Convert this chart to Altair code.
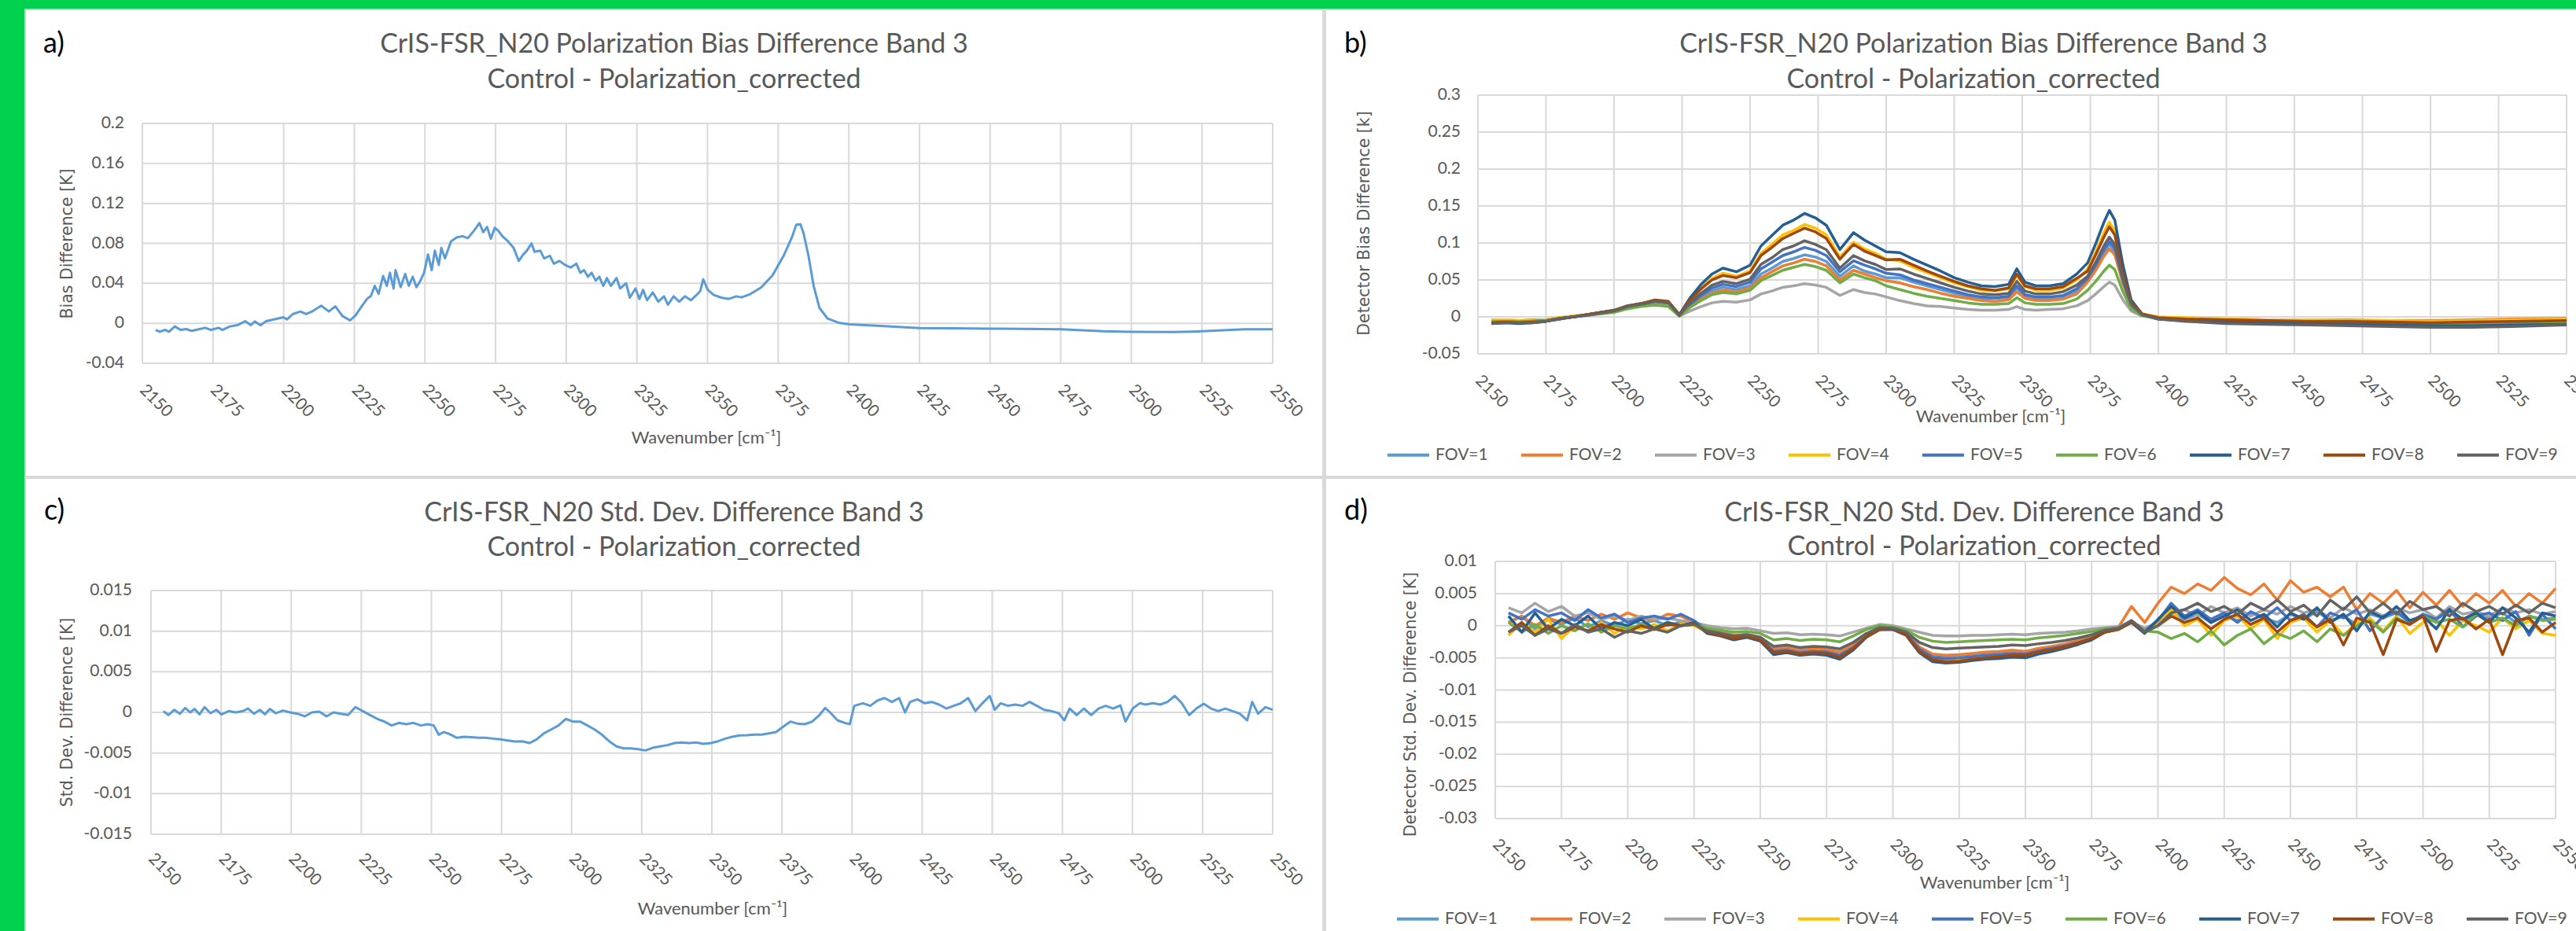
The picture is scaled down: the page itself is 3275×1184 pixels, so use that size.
import altair as alt
import pandas as pd

# ---------------- data ----------------
X_TICKS = [2150, 2175, 2200, 2225, 2250, 2275, 2300, 2325, 2350, 2375, 2400,
           2425, 2450, 2475, 2500, 2525, 2550]
X_TICK_LABELS = [str(v) for v in X_TICKS]

FOV_NAMES = ["FOV=1", "FOV=2", "FOV=3", "FOV=4", "FOV=5", "FOV=6", "FOV=7", "FOV=8", "FOV=9"]
FOV_COLORS = ["#5b9bd5", "#ed7d31", "#a5a5a5", "#ffc000", "#4472c4", "#70ad47",
              "#255e91", "#9e480e", "#636363"]

# panel a: mean bias difference
WN_A = [2154.7, 2156.1, 2158.1, 2159.4, 2161.5, 2163.5, 2165.5, 2167.5, 2170.2, 2172.2,
        2174.3, 2177.0, 2178.3, 2181.0, 2183.7, 2186.4, 2188.4, 2189.8, 2191.8, 2193.8,
        2196.5, 2199.9, 2201.2, 2203.2, 2205.9, 2208.0, 2210.0, 2213.3, 2216.0, 2218.3,
        2220.8, 2223.5, 2225.5, 2227.5, 2229.5, 2230.9, 2232.2, 2233.6, 2235.2, 2236.5,
        2237.6, 2238.9, 2239.6, 2241.4, 2243.0, 2244.3, 2245.7, 2247.0, 2248.4, 2249.7,
        2251.1, 2252.4, 2253.5, 2254.9, 2255.8, 2257.1, 2259.2, 2261.2, 2263.2, 2265.2,
        2267.3, 2269.3, 2270.6, 2272.0, 2273.3, 2274.7, 2276.0, 2277.4, 2279.4, 2281.4,
        2283.2, 2284.8, 2286.1, 2287.7, 2288.8, 2290.8, 2292.2, 2294.2, 2295.6, 2297.6,
        2299.6, 2301.6, 2303.6, 2305.0, 2306.3, 2307.7, 2309.0, 2310.4, 2311.7, 2313.1,
        2314.4, 2315.8, 2317.8, 2319.1, 2321.2, 2322.5, 2324.5, 2325.9, 2327.2, 2328.6,
        2330.6, 2332.6, 2334.6, 2336.0, 2338.0, 2340.0, 2342.0, 2344.1, 2346.1, 2347.4,
        2348.5, 2350.1, 2352.2, 2354.9, 2357.5, 2360.2, 2362.0, 2365.0, 2369.0, 2373.0,
        2377.0, 2380.0, 2381.4, 2382.9, 2384.0, 2385.7, 2387.6, 2389.6, 2392.5, 2396.4,
        2400.3, 2410, 2425, 2437, 2450, 2462, 2475, 2490, 2500, 2515, 2525, 2540, 2550]
VAL_A = [-0.0066, -0.0084, -0.0066, -0.0084, -0.0031, -0.0066, -0.0058, -0.0076, -0.0058, -0.0045,
         -0.0066, -0.0045, -0.0066, -0.0031, -0.0018, 0.0021, -0.0018, 0.0018, -0.0018, 0.0021,
         0.0039, 0.0060, 0.0039, 0.0092, 0.0118, 0.0092, 0.0118, 0.0176, 0.0118, 0.0170,
         0.0073, 0.0029, 0.0081, 0.0165, 0.0244, 0.0275, 0.0375, 0.0296, 0.0474, 0.0375,
         0.0506, 0.0348, 0.0532, 0.0362, 0.0493, 0.0375, 0.0466, 0.0362, 0.0427, 0.0506,
         0.0689, 0.0532, 0.0728, 0.0584, 0.0755, 0.0650, 0.0820, 0.0859, 0.0872, 0.0852,
         0.0925, 0.1003, 0.0912, 0.0964, 0.0846, 0.0956, 0.0925, 0.0872, 0.0820, 0.0755,
         0.0624, 0.0689, 0.0728, 0.0799, 0.0715, 0.0728, 0.0650, 0.0676, 0.0597, 0.0624,
         0.0584, 0.0558, 0.0597, 0.0506, 0.0532, 0.0466, 0.0506, 0.0427, 0.0466, 0.0375,
         0.0453, 0.0375, 0.0453, 0.0348, 0.0401, 0.0257, 0.0348, 0.0244, 0.0335, 0.0231,
         0.0309, 0.0217, 0.0270, 0.0186, 0.0270, 0.0217, 0.0270, 0.0231, 0.0283, 0.0322,
         0.0440, 0.0335, 0.0283, 0.0257, 0.0244, 0.0270, 0.0260, 0.0290, 0.0360, 0.0480,
         0.0680, 0.0870, 0.0986, 0.0990, 0.0900, 0.0680, 0.0370, 0.0155, 0.0047, 0.0006,
         -0.0010, -0.0025, -0.0047, -0.0050, -0.0054, -0.0055, -0.0060, -0.0080, -0.0085,
         -0.0088, -0.0080, -0.0060, -0.0060]

# panel c: mean std. dev. difference
WN_C = [2154.4, 2156.2, 2158.3, 2160.3, 2162.2, 2164.0, 2165.5, 2167.3, 2169.1, 2171.2,
        2173.3, 2175.1, 2177.7, 2180.2, 2182.8, 2184.6, 2186.7, 2188.8, 2190.6, 2192.4,
        2194.5, 2197.1, 2199.6, 2202.2, 2204.8, 2207.4, 2210.0, 2212.6, 2215.1, 2217.7,
        2220.3, 2222.9, 2225.5, 2228.1, 2230.7, 2233.2, 2235.8, 2238.4, 2241.0, 2243.6,
        2246.2, 2248.8, 2250.8, 2252.6, 2254.4, 2256.5, 2259.1, 2261.7, 2264.3, 2266.9,
        2269.4, 2272.0, 2274.6, 2277.2, 2279.8, 2282.4, 2285.0, 2287.5, 2290.1, 2292.7,
        2295.3, 2297.9, 2300.5, 2303.0, 2305.6, 2308.2, 2310.8, 2313.4, 2316.0, 2318.6,
        2321.1, 2323.7, 2326.3, 2328.9, 2331.5, 2334.1, 2336.7, 2339.2, 2341.8, 2344.4,
        2347.0, 2349.6, 2352.2, 2354.8, 2357.3, 2359.9, 2362.5, 2365.1, 2367.7, 2370.3,
        2372.9, 2375.4, 2378.0, 2380.6, 2383.2, 2385.8, 2388.4, 2390.4, 2392.2, 2394.8,
        2397.4, 2399.2, 2400.8, 2403.9, 2406.5, 2409.0, 2411.6, 2414.2, 2416.8, 2418.9,
        2420.7, 2423.3, 2425.9, 2428.4, 2431.0, 2433.6, 2436.2, 2438.8, 2441.4, 2444.0,
        2446.5, 2449.1, 2450.9, 2453.0, 2455.6, 2458.2, 2460.8, 2463.3, 2465.9, 2468.5,
        2471.1, 2473.7, 2475.7, 2477.6, 2480.1, 2482.7, 2485.3, 2487.9, 2490.5, 2493.1,
        2495.7, 2497.5, 2500.1, 2502.6, 2504.7, 2507.3, 2509.9, 2512.5, 2515.1, 2517.6,
        2520.2, 2522.8, 2525.4, 2528.0, 2530.6, 2533.1, 2535.7, 2538.3, 2540.9, 2542.7,
        2544.8, 2547.4, 2550.0]
VAL_C = [0.00016, -0.00032, 0.00032, -0.00016, 0.00055, 0.0, 0.00042, -0.00023, 0.00065, -0.0001,
         0.00032, -0.00026, 0.00016, 0.0, 0.00016, 0.00048, -0.00016, 0.00032, -0.00023, 0.00042,
         -0.0001, 0.00023, 0.0, -0.00016, -0.00048, 0.0, 0.0001, -0.00048, 0.0, -0.00016,
         -0.00032, 0.00065, 0.00016, -0.00032, -0.0008, -0.00113, -0.00161, -0.00129, -0.00145, -0.00129,
         -0.00161, -0.00145, -0.00161, -0.00274, -0.00242, -0.00268, -0.00313, -0.003, -0.00306, -0.00313,
         -0.00313, -0.00323, -0.00332, -0.00345, -0.00358, -0.00355, -0.00377, -0.00332, -0.00258, -0.0021,
         -0.00161, -0.0008, -0.00113, -0.00113, -0.00161, -0.0021, -0.00274, -0.00355, -0.00419, -0.00442,
         -0.00442, -0.00452, -0.00468, -0.00436, -0.00419, -0.00403, -0.00377, -0.00371, -0.00377, -0.00371,
         -0.00387, -0.00377, -0.00355, -0.00323, -0.003, -0.00284, -0.00281, -0.00274, -0.00274, -0.00258,
         -0.00242, -0.00177, -0.00113, -0.00139, -0.00145, -0.00113, -0.00032, 0.00055, 0.0, -0.00097,
         -0.00129, -0.00145, 0.00081, 0.00113, 0.00081, 0.00145, 0.00177, 0.00129, 0.00177, 0.0,
         0.00129, 0.00161, 0.00113, 0.00129, 0.00097, 0.00048, 0.00081, 0.00113, 0.00177, 0.00016,
         0.00113, 0.00203, 0.00032, 0.00113, 0.00081, 0.00097, 0.00081, 0.00129, 0.00081, 0.00032,
         0.00016, -0.0001, -0.00097, 0.00048, -0.00032, 0.00048, -0.00032, 0.00048, 0.00081, 0.00048,
         0.00087, -0.00113, 0.00048, 0.00113, 0.00097, 0.00113, 0.00097, 0.00129, 0.00203, 0.00113,
         -0.00032, 0.00048, 0.00106, 0.00048, 0.00016, 0.00048, 0.00016, -0.00016, -0.00097, 0.00129,
         -0.00016, 0.00065, 0.00032]

# panel b: per-detector bias difference
WN_B = [2155, 2160, 2165, 2170, 2175, 2180, 2185, 2190, 2195, 2200, 2205, 2210, 2215, 2220, 2224,
        2228, 2232, 2236, 2240, 2245, 2250, 2254, 2258, 2262, 2266, 2270, 2274, 2278, 2283, 2288,
        2292, 2296, 2300, 2305, 2310, 2315, 2320, 2325, 2330, 2335, 2340, 2345, 2348, 2351, 2355,
        2360, 2365, 2370, 2374, 2377, 2380, 2382, 2384, 2387, 2390, 2394,
        2400, 2410, 2425, 2440, 2455, 2470, 2485, 2500, 2515, 2530, 2550]
FOV1_B = [-0.007, -0.006, -0.007, -0.006, -0.005, -0.002, 0.000, 0.003, 0.006, 0.008, 0.014, 0.017, 0.020, 0.018, 0.002,
          0.016, 0.026, 0.035, 0.040, 0.037, 0.042, 0.058, 0.066, 0.075, 0.079, 0.084, 0.081, 0.075, 0.055, 0.069,
          0.062, 0.058, 0.053, 0.053, 0.047, 0.042, 0.037, 0.032, 0.028, 0.025, 0.025, 0.026, 0.039, 0.028, 0.025,
          0.025, 0.027, 0.035, 0.050, 0.067, 0.087, 0.098, 0.089, 0.048, 0.016, 0.003,
          -0.002, -0.003, -0.004, -0.005, -0.005, -0.006, -0.006, -0.007, -0.006, -0.005, -0.004]
FOV2_B = [-0.004, -0.004, -0.005, -0.004, -0.004, -0.001, 0.001, 0.003, 0.006, 0.008, 0.014, 0.017, 0.020, 0.018, 0.002,
          0.015, 0.024, 0.032, 0.036, 0.034, 0.039, 0.053, 0.061, 0.069, 0.073, 0.078, 0.075, 0.069, 0.050, 0.063,
          0.058, 0.053, 0.049, 0.046, 0.041, 0.037, 0.032, 0.028, 0.025, 0.022, 0.021, 0.023, 0.034, 0.025, 0.022,
          0.022, 0.024, 0.031, 0.047, 0.063, 0.082, 0.092, 0.084, 0.045, 0.015, 0.003,
          -0.001, -0.002, -0.003, -0.004, -0.004, -0.004, -0.005, -0.005, -0.004, -0.003, -0.002]
FOV3_B = [-0.006, -0.006, -0.006, -0.006, -0.005, -0.002, 0.000, 0.002, 0.005, 0.007, 0.012, 0.015, 0.017, 0.015, 0.001,
          0.008, 0.014, 0.019, 0.021, 0.020, 0.023, 0.031, 0.035, 0.040, 0.042, 0.045, 0.043, 0.040, 0.029, 0.037,
          0.033, 0.031, 0.027, 0.022, 0.018, 0.015, 0.014, 0.012, 0.010, 0.009, 0.009, 0.010, 0.014, 0.010, 0.009,
          0.010, 0.011, 0.015, 0.022, 0.031, 0.041, 0.047, 0.043, 0.023, 0.008, 0.001,
          -0.002, -0.004, -0.006, -0.007, -0.008, -0.009, -0.009, -0.010, -0.010, -0.009, -0.008]
FOV4_B = [-0.004, -0.004, -0.005, -0.005, -0.004, -0.001, 0.001, 0.003, 0.006, 0.008, 0.014, 0.018, 0.021, 0.019, 0.002,
          0.023, 0.039, 0.052, 0.059, 0.055, 0.062, 0.086, 0.098, 0.111, 0.117, 0.125, 0.120, 0.111, 0.081, 0.101,
          0.092, 0.086, 0.078, 0.076, 0.067, 0.060, 0.053, 0.046, 0.041, 0.036, 0.035, 0.038, 0.056, 0.041, 0.036,
          0.036, 0.039, 0.050, 0.065, 0.088, 0.114, 0.128, 0.116, 0.062, 0.021, 0.004,
          0.000, -0.001, -0.003, -0.004, -0.004, -0.005, -0.005, -0.006, -0.005, -0.004, -0.003]
FOV5_B = [-0.007, -0.006, -0.007, -0.006, -0.005, -0.002, 0.000, 0.003, 0.006, 0.008, 0.014, 0.017, 0.021, 0.019, 0.002,
          0.017, 0.029, 0.039, 0.044, 0.041, 0.047, 0.065, 0.074, 0.083, 0.088, 0.094, 0.090, 0.083, 0.061, 0.076,
          0.070, 0.065, 0.059, 0.057, 0.050, 0.045, 0.040, 0.035, 0.030, 0.027, 0.026, 0.028, 0.042, 0.030, 0.027,
          0.027, 0.029, 0.038, 0.052, 0.070, 0.091, 0.102, 0.093, 0.049, 0.016, 0.003,
          -0.002, -0.004, -0.006, -0.007, -0.008, -0.009, -0.010, -0.011, -0.011, -0.010, -0.009]
FOV6_B = [-0.007, -0.006, -0.007, -0.006, -0.005, -0.002, 0.000, 0.002, 0.004, 0.006, 0.011, 0.014, 0.016, 0.014, 0.001,
          0.013, 0.022, 0.030, 0.033, 0.031, 0.036, 0.049, 0.056, 0.063, 0.067, 0.071, 0.068, 0.063, 0.046, 0.058,
          0.053, 0.049, 0.042, 0.037, 0.032, 0.028, 0.025, 0.022, 0.019, 0.017, 0.017, 0.018, 0.026, 0.019, 0.017,
          0.017, 0.018, 0.024, 0.036, 0.048, 0.062, 0.070, 0.064, 0.034, 0.011, 0.002,
          -0.003, -0.005, -0.007, -0.008, -0.009, -0.010, -0.011, -0.012, -0.011, -0.010, -0.009]
FOV7_B = [-0.009, -0.008, -0.009, -0.008, -0.006, -0.003, 0.000, 0.003, 0.006, 0.009, 0.015, 0.018, 0.022, 0.020, 0.003,
          0.026, 0.044, 0.058, 0.066, 0.061, 0.070, 0.096, 0.110, 0.124, 0.131, 0.140, 0.134, 0.124, 0.091, 0.114,
          0.104, 0.096, 0.088, 0.087, 0.078, 0.070, 0.062, 0.053, 0.047, 0.042, 0.041, 0.044, 0.065, 0.047, 0.042,
          0.042, 0.045, 0.058, 0.073, 0.099, 0.128, 0.144, 0.131, 0.070, 0.023, 0.004,
          -0.003, -0.005, -0.007, -0.008, -0.009, -0.010, -0.011, -0.012, -0.012, -0.011, -0.010]
FOV8_B = [-0.008, -0.007, -0.008, -0.007, -0.006, -0.002, 0.000, 0.003, 0.006, 0.009, 0.015, 0.018, 0.023, 0.021, 0.003,
          0.023, 0.038, 0.050, 0.056, 0.053, 0.060, 0.083, 0.094, 0.106, 0.113, 0.120, 0.115, 0.106, 0.078, 0.098,
          0.089, 0.083, 0.077, 0.078, 0.070, 0.062, 0.055, 0.048, 0.042, 0.038, 0.036, 0.039, 0.058, 0.042, 0.038,
          0.038, 0.041, 0.052, 0.062, 0.084, 0.108, 0.122, 0.111, 0.059, 0.020, 0.004,
          -0.001, -0.003, -0.004, -0.005, -0.006, -0.006, -0.007, -0.008, -0.007, -0.006, -0.005]
FOV9_B = [-0.009, -0.008, -0.008, -0.008, -0.006, -0.003, 0.000, 0.002, 0.005, 0.008, 0.014, 0.017, 0.021, 0.019, 0.002,
          0.019, 0.032, 0.043, 0.048, 0.045, 0.051, 0.071, 0.080, 0.091, 0.096, 0.103, 0.098, 0.091, 0.066, 0.083,
          0.076, 0.071, 0.064, 0.065, 0.058, 0.052, 0.046, 0.040, 0.035, 0.031, 0.030, 0.032, 0.048, 0.035, 0.031,
          0.031, 0.034, 0.043, 0.055, 0.074, 0.096, 0.108, 0.098, 0.052, 0.017, 0.003,
          -0.003, -0.006, -0.009, -0.010, -0.011, -0.012, -0.013, -0.014, -0.014, -0.013, -0.011]

# panel d: per-detector std. dev. difference, sampled every 5 cm-1 from 2155 to 2550
WN_D = list(range(2155, 2551, 5))
FOV1_D = [0.0005, 0.0015, -0.0005, 0.0010, 0.0002, 0.0012, -0.0002, 0.0008, 0.0000, 0.0010, 0.0003, 0.0008, 0.0000, 0.0006, 0.0002,
          -0.0008, -0.0012, -0.0017, -0.0014, -0.0019,
          -0.0038, -0.0035, -0.0039, -0.0037, -0.0038, -0.0042, -0.0031, -0.0015, -0.0004, -0.0004,
          -0.0012, -0.0034, -0.0045, -0.0047, -0.0046, -0.0044, -0.0042, -0.0041, -0.0039, -0.0040,
          -0.0036, -0.0033, -0.0029, -0.0024, -0.0017, -0.0008, -0.0005, 0.0006, -0.0007,
          0.0008, 0.0020, 0.0010, 0.0018, 0.0005, 0.0015, 0.0008, 0.0020, 0.0012, 0.0005, 0.0018, 0.0010, 0.0022, 0.0008, 0.0015, 0.0002,
          0.0018, 0.0012, 0.0020, 0.0006, 0.0015, 0.0010, 0.0022, 0.0008, 0.0016, 0.0012, 0.0020, 0.0005, 0.0015, 0.0010, 0.0012]
FOV2_D = [0.0005, 0.0015, 0.0000, 0.0012, 0.0005, 0.0015, 0.0008, 0.0018, 0.0010, 0.0020, 0.0012, 0.0008, 0.0018, 0.0015, 0.0005,
          -0.0006, -0.0010, -0.0015, -0.0013, -0.0018,
          -0.0036, -0.0034, -0.0038, -0.0036, -0.0037, -0.0041, -0.0030, -0.0014, -0.0004, -0.0004,
          -0.0012, -0.0033, -0.0044, -0.0046, -0.0045, -0.0043, -0.0041, -0.0040, -0.0038, -0.0040,
          -0.0035, -0.0032, -0.0028, -0.0023, -0.0015, -0.0006, -0.0003, 0.0030, 0.0005,
          0.0035, 0.0060, 0.0050, 0.0065, 0.0055, 0.0075, 0.0058, 0.0048, 0.0065, 0.0040, 0.0070, 0.0052, 0.0060, 0.0045, 0.0060, 0.0025,
          0.0050, 0.0035, 0.0055, 0.0028, 0.0052, 0.0032, 0.0055, 0.0030, 0.0050, 0.0035, 0.0055, 0.0030, 0.0050, 0.0035, 0.0058]
FOV3_D = [0.0028, 0.0020, 0.0035, 0.0022, 0.0030, 0.0015, 0.0020, 0.0010, 0.0015, 0.0008, 0.0015, 0.0010, 0.0012, 0.0008, 0.0005,
          0.0000, -0.0003, -0.0005, -0.0004, -0.0008,
          -0.0012, -0.0011, -0.0014, -0.0013, -0.0014, -0.0016, -0.0010, -0.0004, 0.0002, 0.0000,
          -0.0005, -0.0010, -0.0015, -0.0016, -0.0016, -0.0015, -0.0015, -0.0014, -0.0013, -0.0014,
          -0.0012, -0.0011, -0.0010, -0.0008, -0.0005, -0.0003, -0.0001, 0.0006, -0.0004,
          0.0005, 0.0020, 0.0025, 0.0015, 0.0030, 0.0020, 0.0028, 0.0015, 0.0025, 0.0018, 0.0030, 0.0020, 0.0025, 0.0012, 0.0028, 0.0018,
          0.0025, 0.0015, 0.0028, 0.0020, 0.0025, 0.0012, 0.0030, 0.0018, 0.0022, 0.0015, 0.0028, 0.0020, 0.0025, 0.0018, 0.0022]
FOV4_D = [-0.0015, 0.0005, -0.0010, 0.0010, -0.0020, 0.0000, -0.0008, 0.0005, -0.0012, 0.0000, -0.0005, 0.0002, -0.0008, 0.0003, 0.0000,
          -0.0010, -0.0014, -0.0020, -0.0016, -0.0022,
          -0.0042, -0.0039, -0.0043, -0.0041, -0.0042, -0.0047, -0.0035, -0.0016, -0.0005, -0.0004,
          -0.0013, -0.0038, -0.0050, -0.0052, -0.0051, -0.0049, -0.0047, -0.0046, -0.0044, -0.0045,
          -0.0040, -0.0036, -0.0032, -0.0026, -0.0019, -0.0009, -0.0005, 0.0008, -0.0008,
          0.0005, 0.0025, 0.0000, 0.0010, -0.0015, 0.0008, 0.0015, -0.0005, 0.0010, -0.0020, 0.0005, 0.0012, -0.0010, 0.0008, -0.0015, 0.0005,
          0.0012, -0.0008, 0.0015, -0.0012, 0.0005, 0.0010, -0.0015, 0.0008, 0.0000, -0.0010, 0.0012, -0.0005, 0.0008, -0.0012, -0.0015]
FOV5_D = [0.0020, 0.0010, 0.0025, 0.0015, 0.0020, 0.0008, 0.0025, 0.0012, 0.0018, 0.0005, 0.0012, 0.0015, 0.0010, 0.0018, 0.0008,
          -0.0008, -0.0012, -0.0018, -0.0015, -0.0020,
          -0.0040, -0.0038, -0.0042, -0.0040, -0.0041, -0.0046, -0.0034, -0.0016, -0.0005, -0.0005,
          -0.0013, -0.0036, -0.0049, -0.0051, -0.0050, -0.0048, -0.0046, -0.0045, -0.0043, -0.0044,
          -0.0039, -0.0035, -0.0031, -0.0026, -0.0019, -0.0009, -0.0005, 0.0008, -0.0008,
          0.0008, 0.0035, 0.0015, 0.0025, 0.0010, 0.0020, 0.0005, 0.0022, 0.0012, 0.0028, 0.0008, 0.0018, -0.0002, 0.0020, 0.0012, 0.0025,
          -0.0008, 0.0015, 0.0022, 0.0005, 0.0018, 0.0010, 0.0026, -0.0002, 0.0015, 0.0020, 0.0008, 0.0022, -0.0015, 0.0018, -0.0005]
FOV6_D = [0.0005, -0.0010, 0.0002, -0.0012, 0.0000, -0.0008, 0.0003, -0.0010, 0.0000, -0.0005, 0.0002, -0.0003, 0.0005, 0.0000, 0.0002,
          -0.0004, -0.0007, -0.0010, -0.0009, -0.0012,
          -0.0022, -0.0020, -0.0023, -0.0021, -0.0022, -0.0025, -0.0016, -0.0006, 0.0000, -0.0002,
          -0.0007, -0.0018, -0.0024, -0.0026, -0.0025, -0.0024, -0.0023, -0.0022, -0.0021, -0.0022,
          -0.0019, -0.0017, -0.0015, -0.0012, -0.0009, -0.0005, -0.0003, 0.0005, -0.0008,
          -0.0010, -0.0020, -0.0012, -0.0025, -0.0008, -0.0030, -0.0015, -0.0005, -0.0028, -0.0012, -0.0020, -0.0008, -0.0025, -0.0005, -0.0015, 0.0000,
          0.0008, -0.0010, 0.0012, 0.0002, 0.0015, 0.0005, 0.0010, -0.0002, 0.0018, 0.0005, 0.0012, 0.0000, 0.0015, 0.0008, 0.0010]
FOV7_D = [0.0015, -0.0010, 0.0020, -0.0005, 0.0010, 0.0000, 0.0015, -0.0005, 0.0005, 0.0000, 0.0010, -0.0005, 0.0005, 0.0000, 0.0005,
          -0.0012, -0.0016, -0.0022, -0.0018, -0.0024,
          -0.0045, -0.0042, -0.0046, -0.0044, -0.0046, -0.0052, -0.0038, -0.0018, -0.0006, -0.0006,
          -0.0015, -0.0042, -0.0056, -0.0058, -0.0057, -0.0054, -0.0052, -0.0051, -0.0049, -0.0050,
          -0.0044, -0.0040, -0.0035, -0.0029, -0.0022, -0.0010, -0.0006, 0.0005, -0.0012,
          0.0010, 0.0030, 0.0012, 0.0022, 0.0005, 0.0015, 0.0025, 0.0008, 0.0018, -0.0002, 0.0020, 0.0010, 0.0028, 0.0005, 0.0018, -0.0008,
          0.0022, 0.0012, 0.0030, 0.0008, 0.0015, -0.0005, 0.0025, 0.0010, 0.0020, 0.0005, 0.0028, 0.0012, -0.0010, 0.0020, 0.0015]
FOV8_D = [-0.0010, 0.0005, -0.0015, 0.0000, -0.0012, -0.0002, -0.0008, 0.0002, -0.0005, -0.0010, 0.0000, -0.0006, 0.0002, 0.0000, 0.0003,
          -0.0010, -0.0015, -0.0020, -0.0017, -0.0022,
          -0.0042, -0.0040, -0.0044, -0.0042, -0.0043, -0.0049, -0.0036, -0.0017, -0.0006, -0.0005,
          -0.0014, -0.0040, -0.0053, -0.0056, -0.0055, -0.0052, -0.0050, -0.0048, -0.0046, -0.0046,
          -0.0041, -0.0037, -0.0033, -0.0027, -0.0020, -0.0010, -0.0006, 0.0006, -0.0010,
          0.0000, 0.0015, 0.0005, 0.0012, -0.0005, 0.0010, 0.0018, 0.0002, 0.0012, -0.0010, 0.0008, 0.0015, -0.0002, 0.0010, -0.0030, 0.0012,
          0.0005, -0.0045, 0.0010, 0.0002, 0.0015, -0.0040, 0.0008, 0.0012, -0.0005, 0.0010, -0.0045, 0.0008, 0.0012, -0.0010, 0.0005]
FOV9_D = [-0.0010, 0.0000, -0.0015, -0.0005, -0.0012, 0.0002, -0.0010, -0.0005, -0.0018, -0.0008, -0.0012, -0.0005, -0.0010, 0.0000, 0.0002,
          -0.0008, -0.0012, -0.0016, -0.0014, -0.0018,
          -0.0032, -0.0030, -0.0034, -0.0032, -0.0033, -0.0036, -0.0026, -0.0012, -0.0003, -0.0004,
          -0.0010, -0.0026, -0.0034, -0.0036, -0.0035, -0.0034, -0.0033, -0.0032, -0.0030, -0.0031,
          -0.0028, -0.0026, -0.0023, -0.0019, -0.0014, -0.0007, -0.0004, 0.0008, -0.0010,
          0.0000, 0.0020, 0.0025, 0.0035, 0.0022, 0.0030, 0.0018, 0.0035, 0.0025, 0.0040, 0.0022, 0.0032, 0.0015, 0.0040, 0.0025, 0.0045,
          0.0020, 0.0035, 0.0018, 0.0038, 0.0025, 0.0030, 0.0015, 0.0035, 0.0022, 0.0030, 0.0018, 0.0032, 0.0020, 0.0035, 0.0028]

FOVS_B = [FOV1_B, FOV2_B, FOV3_B, FOV4_B, FOV5_B, FOV6_B, FOV7_B, FOV8_B, FOV9_B]
FOVS_D = [FOV1_D, FOV2_D, FOV3_D, FOV4_D, FOV5_D, FOV6_D, FOV7_D, FOV8_D, FOV9_D]

# ---------------- styling / layout ----------------
FONT = "Lato, sans-serif"
AXFONT = "DejaVu Sans, sans-serif"
TXT = "#595959"
GRID = "#d9d9d9"
LINE = "#5b9bd5"
ONE = pd.DataFrame({"k": [0]})
TITLE_SIZE = 34
YTITLE_SIZE = 20.5

PANELS = {
    "a": dict(xr=[181, 1618], ydom=[-0.04, 0.2], yr=[462, 157],
              yticks=[-0.04, 0, 0.04, 0.08, 0.12, 0.16, 0.2],
              ylabs=["-0.04", "0", "0.04", "0.08", "0.12", "0.16", "0.2"],
              ylab_x=158, xlab_y=493, title_x=857, t1_y=57, t2_y=102,
              t1="CrIS-FSR_N20 Polarization Bias Difference Band 3",
              tag="a)", tag_x=55, tag_y=56,
              ytitle="Bias Difference [K]", ytitle_x=86, ytitle_y=310,
              xtitle_x=898, xtitle_y=557),
    "b": dict(xr=[1879, 3263], ydom=[-0.05, 0.3], yr=[450, 121],
              yticks=[-0.05, 0, 0.05, 0.1, 0.15, 0.2, 0.25, 0.3],
              ylabs=["-0.05", "0", "0.05", "0.1", "0.15", "0.2", "0.25", "0.3"],
              ylab_x=1857, xlab_y=481, title_x=2509, t1_y=57, t2_y=102,
              t1="CrIS-FSR_N20 Polarization Bias Difference Band 3",
              tag="b)", tag_x=1709, tag_y=56,
              ytitle="Detector Bias Difference [k]", ytitle_x=1735, ytitle_y=284,
              xtitle_x=2531, xtitle_y=530, leg_x=1762, leg_y=550),
    "c": dict(xr=[192, 1618], ydom=[-0.015, 0.015], yr=[1061, 751],
              yticks=[-0.015, -0.01, -0.005, 0, 0.005, 0.01, 0.015],
              ylabs=["-0.015", "-0.01", "-0.005", "0", "0.005", "0.01", "0.015"],
              ylab_x=168, xlab_y=1089, title_x=857, t1_y=653, t2_y=697,
              t1="CrIS-FSR_N20 Std. Dev. Difference Band 3",
              tag="c)", tag_x=56, tag_y=650,
              ytitle="Std. Dev. Difference [K]", ytitle_x=86, ytitle_y=906,
              xtitle_x=906, xtitle_y=1156),
    "d": dict(xr=[1901, 3249], ydom=[-0.03, 0.01], yr=[1041, 714],
              yticks=[-0.03, -0.025, -0.02, -0.015, -0.01, -0.005, 0, 0.005, 0.01],
              ylabs=["-0.03", "-0.025", "-0.02", "-0.015", "-0.01", "-0.005", "0", "0.005", "0.01"],
              ylab_x=1878, xlab_y=1071, title_x=2510, t1_y=653, t2_y=696,
              t1="CrIS-FSR_N20 Std. Dev. Difference Band 3",
              tag="d)", tag_x=1709, tag_y=650,
              ytitle="Detector Std. Dev. Difference [K]", ytitle_x=1794, ytitle_y=896,
              xtitle_x=2536, xtitle_y=1123, leg_x=1774, leg_y=1140),
}


def sc(dom, rng):
    return alt.Scale(domain=dom, range=rng, nice=False, zero=False)


def text_at(txt, x, y, size, color=TXT, font=FONT, angle=0, align="center"):
    return alt.Chart(ONE).mark_text(text=txt, font=font, fontSize=size, color=color,
                                    angle=angle, align=align, baseline="middle").encode(
        x=alt.value(x), y=alt.value(y))


def panel_layers(P, line_chart_fn):
    xs = sc([2150, 2550], P["xr"])
    ys = sc(P["ydom"], P["yr"])
    out = []
    vg = pd.DataFrame({"v": X_TICKS, "y0": P["ydom"][0], "y1": P["ydom"][1]})
    out.append(alt.Chart(vg).mark_rule(color=GRID, strokeWidth=2).encode(
        x=alt.X("v:Q", scale=xs, axis=None),
        y=alt.Y("y0:Q", scale=ys, axis=None), y2="y1:Q"))
    hg = pd.DataFrame({"v": P["yticks"], "x0": 2150, "x1": 2550})
    out.append(alt.Chart(hg).mark_rule(color=GRID, strokeWidth=2).encode(
        y=alt.Y("v:Q", scale=ys, axis=None),
        x=alt.X("x0:Q", scale=xs, axis=None), x2="x1:Q"))
    out.append(line_chart_fn(xs, ys))
    xl = pd.DataFrame({"v": X_TICKS, "lab": X_TICK_LABELS})
    out.append(alt.Chart(xl).mark_text(angle=45, align="left", baseline="middle",
                                       font=FONT, fontSize=21, color=TXT).encode(
        x=alt.X("v:Q", scale=xs, axis=None), y=alt.value(P["xlab_y"]), text="lab:N"))
    yl = pd.DataFrame({"v": P["yticks"], "lab": P["ylabs"]})
    out.append(alt.Chart(yl).mark_text(align="right", baseline="middle",
                                       font=FONT, fontSize=21, color=TXT).encode(
        y=alt.Y("v:Q", scale=ys, axis=None), x=alt.value(P["ylab_x"]), text="lab:N"))
    out.append(text_at(P["t1"], P["title_x"], P["t1_y"], TITLE_SIZE))
    out.append(text_at("Control - Polarization_corrected", P["title_x"], P["t2_y"], TITLE_SIZE))
    out.append(text_at(P["tag"], P["tag_x"], P["tag_y"], 36, color="#000000", align="left"))
    out.append(text_at(P["ytitle"], P["ytitle_x"], P["ytitle_y"], YTITLE_SIZE, font=AXFONT, angle=270))
    out.append(text_at("Wavenumber [cm\u207b\u00b9]", P["xtitle_x"], P["xtitle_y"], 22))
    return out


def single_line(wn, vals):
    df = pd.DataFrame({"wn": wn, "val": vals})

    def fn(xs, ys):
        return alt.Chart(df).mark_line(color=LINE, strokeWidth=3, strokeJoin="round").encode(
            x=alt.X("wn:Q", scale=xs, axis=None),
            y=alt.Y("val:Q", scale=ys, axis=None))
    return fn


def multi_line(wn, series, leg_x, leg_y):
    rows = []
    for name, vals in zip(FOV_NAMES, series):
        assert len(vals) == len(wn), (name, len(vals), len(wn))
        for w, v in zip(wn, vals):
            rows.append({"wn": w, "val": v, "fov": name})
    df = pd.DataFrame(rows)

    def fn(xs, ys):
        return alt.Chart(df).mark_line(strokeWidth=3.5, strokeJoin="round").encode(
            x=alt.X("wn:Q", scale=xs, axis=None),
            y=alt.Y("val:Q", scale=ys, axis=None),
            color=alt.Color("fov:N", scale=alt.Scale(domain=FOV_NAMES, range=FOV_COLORS),
                            legend=alt.Legend(orient="none", legendX=leg_x, legendY=leg_y,
                                              direction="horizontal", columns=9, title=None,
                                              symbolType="stroke", symbolSize=2809,
                                              symbolStrokeWidth=4, labelFont=FONT,
                                              labelFontSize=21, labelColor=TXT,
                                              labelOffset=6, columnPadding=34, padding=0,
                                              gridAlign="all")))
    return fn


assert len(WN_A) == len(VAL_A)
assert len(WN_C) == len(VAL_C)

layers = [
    alt.Chart(ONE).mark_rect(color="white", stroke="#d0d0d0", strokeWidth=2).encode(
        x=alt.value(32), x2=alt.value(3320), y=alt.value(12), y2=alt.value(1220)),
    alt.Chart(ONE).mark_rect(color="#d9d9d9").encode(
        x=alt.value(1681), x2=alt.value(1686), y=alt.value(12), y2=alt.value(1220)),
    alt.Chart(ONE).mark_rect(color="#d9d9d9").encode(
        x=alt.value(32), x2=alt.value(3320), y=alt.value(605), y2=alt.value(609)),
]
layers += panel_layers(PANELS["a"], single_line(WN_A, VAL_A))
layers += panel_layers(PANELS["b"], multi_line(WN_B, FOVS_B, PANELS["b"]["leg_x"], PANELS["b"]["leg_y"]))
layers += panel_layers(PANELS["c"], single_line(WN_C, VAL_C))
layers += panel_layers(PANELS["d"], multi_line(WN_D, FOVS_D, PANELS["d"]["leg_x"], PANELS["d"]["leg_y"]))

chart = alt.layer(*layers).resolve_scale(
    x="independent", y="independent", color="independent"
).properties(
    width=3275, height=1184, padding=0,
    autosize=alt.AutoSizeParams(type="none"),
    background="#00d24f",
).configure_view(stroke=None)

chart.save("out.html", embed_options={"renderer": "svg", "actions": False})
